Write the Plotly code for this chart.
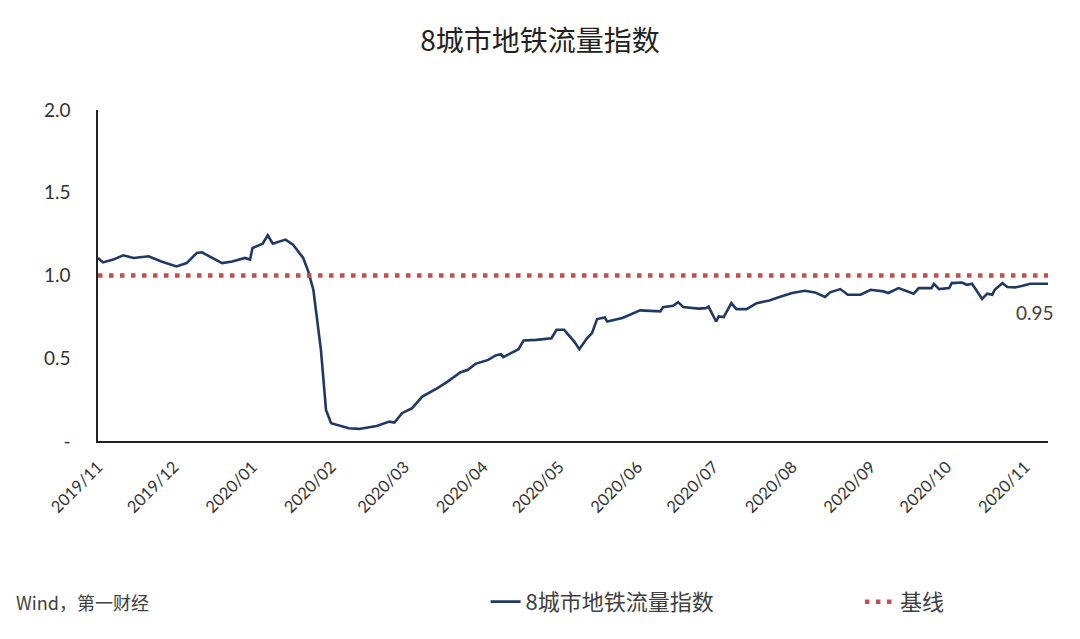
import plotly.graph_objects as go

# ---------------- data ----------------
dates = [
    "2019-11-01", "2019-11-03", "2019-11-07", "2019-11-11", "2019-11-15", "2019-11-21", "2019-11-26",
    "2019-12-02", "2019-12-06", "2019-12-10", "2019-12-12", "2019-12-16", "2019-12-20", "2019-12-24",
    "2019-12-29", "2019-12-31", "2020-01-01", "2020-01-05", "2020-01-07", "2020-01-09", "2020-01-14",
    "2020-01-17", "2020-01-21", "2020-01-23", "2020-01-25", "2020-01-28", "2020-01-30", "2020-02-01",
    "2020-02-04", "2020-02-08", "2020-02-12", "2020-02-17", "2020-02-19", "2020-02-24", "2020-02-26",
    "2020-02-29", "2020-03-04", "2020-03-08", "2020-03-14", "2020-03-18", "2020-03-23", "2020-03-26",
    "2020-03-29", "2020-04-03", "2020-04-06", "2020-04-08", "2020-04-09", "2020-04-12", "2020-04-15",
    "2020-04-17", "2020-04-22", "2020-04-28", "2020-04-30", "2020-05-03", "2020-05-05", "2020-05-07",
    "2020-05-09", "2020-05-12", "2020-05-14", "2020-05-16", "2020-05-19", "2020-05-20", "2020-05-26",
    "2020-06-02", "2020-06-10", "2020-06-11", "2020-06-15", "2020-06-17", "2020-06-19", "2020-06-25",
    "2020-06-28", "2020-06-29", "2020-07-02", "2020-07-03", "2020-07-05", "2020-07-08", "2020-07-10",
    "2020-07-14", "2020-07-18", "2020-07-23", "2020-07-27", "2020-08-01", "2020-08-06", "2020-08-10",
    "2020-08-14", "2020-08-16", "2020-08-20", "2020-08-23", "2020-08-28", "2020-09-01", "2020-09-06",
    "2020-09-08", "2020-09-12", "2020-09-18", "2020-09-20", "2020-09-25", "2020-09-26", "2020-09-28",
    "2020-10-02", "2020-10-03", "2020-10-07", "2020-10-09", "2020-10-11", "2020-10-13", "2020-10-15",
    "2020-10-17", "2020-10-19", "2020-10-20", "2020-10-23", "2020-10-25", "2020-10-28", "2020-10-31",
    "2020-11-03", "2020-11-10",
]
metro_index = [
    1.106, 1.079, 1.096, 1.122, 1.106, 1.116, 1.085,
    1.055, 1.075, 1.136, 1.140, 1.106, 1.075, 1.085,
    1.106, 1.096, 1.166, 1.192, 1.243, 1.192, 1.217,
    1.186, 1.106, 1.025, 0.914, 0.551, 0.188, 0.107,
    0.094, 0.077, 0.073, 0.087, 0.091, 0.117, 0.111,
    0.168, 0.198, 0.268, 0.319, 0.359, 0.414, 0.430,
    0.466, 0.490, 0.517, 0.525, 0.507, 0.531, 0.555,
    0.607, 0.611, 0.621, 0.672, 0.672, 0.636, 0.601,
    0.555, 0.621, 0.652, 0.737, 0.746, 0.722, 0.743,
    0.789, 0.783, 0.809, 0.817, 0.839, 0.809, 0.800,
    0.803, 0.812, 0.722, 0.753, 0.749, 0.833, 0.797,
    0.797, 0.833, 0.849, 0.870, 0.894, 0.908, 0.898,
    0.870, 0.898, 0.918, 0.884, 0.884, 0.914, 0.904,
    0.894, 0.924, 0.890, 0.924, 0.924, 0.950, 0.918,
    0.924, 0.954, 0.958, 0.944, 0.950, 0.904, 0.858,
    0.890, 0.884, 0.914, 0.954, 0.930, 0.928, 0.938,
    0.950, 0.950,
]
baseline_value = 1.0
y_tick_vals = [0, 0.5, 1.0, 1.5, 2.0]
y_tick_text = ["-", "0.5", "1.0", "1.5", "2.0"]

title_text = "8城市地铁流量指数"
series_name = "8城市地铁流量指数"
baseline_name = "基线"
source_text = "Wind，第一财经"

# ---------------- figure ----------------
cjk = "Noto Sans CJK SC, sans-serif"
num_font = "Lato, Noto Sans, sans-serif"

fig = go.Figure()
fig.add_trace(go.Scatter(
    x=dates, y=metro_index, mode="lines", name=series_name, legend="legend",
    line=dict(color="#1F3864", width=2.6),
))
fig.add_trace(go.Scatter(
    x=[dates[0], dates[-1]], y=[baseline_value, baseline_value], mode="lines",
    name=baseline_name, legend="legend2",
    line=dict(color="#C0504D", width=4.5, dash="4.5px,6.5px"),
))

fig.add_annotation(
    x=dates[-1], y=metro_index[-1], text=f"{metro_index[-1]:.2f}", showarrow=False,
    xanchor="center", yanchor="middle", xshift=-13, yshift=-29,
    font=dict(family=num_font, size=19, color="#404040"),
)
fig.add_annotation(
    xref="paper", yref="paper", x=-0.088, y=-0.486, xanchor="left", yanchor="middle",
    text=source_text, showarrow=False,
    font=dict(family=cjk, size=18, color="#404040"),
)

legend_common = dict(orientation="h", xanchor="left", y=-0.486, yanchor="middle",
                     font=dict(family=cjk, size=22, color="#404040"),
                     bgcolor="rgba(0,0,0,0)")

fig.update_layout(
    width=1080, height=639,
    margin=dict(l=98, r=32, t=110, b=198, autoexpand=False),
    paper_bgcolor="white", plot_bgcolor="white",
    title=dict(text=title_text, x=0.5, xanchor="center", y=0.935, yanchor="middle",
               font=dict(family=cjk, size=28, color="#222222")),
    showlegend=True,
    legend=dict(x=0.408, **legend_common),
    legend2=dict(x=0.802, **legend_common),
    xaxis=dict(
        type="date", range=["2019-11-01", "2020-11-10"], automargin=False,
        tick0="2019-11-01", dtick="M1", tickformat="%Y/%m", tickangle=-45,
        showgrid=False, zeroline=False, showline=True, linecolor="#222222", linewidth=1.5,
        ticks="outside", ticklen=8, tickcolor="rgba(0,0,0,0)",
        tickfont=dict(family=num_font, size=16.5, color="#333333"),
    ),
    yaxis=dict(
        range=[0, 2], tickvals=y_tick_vals, ticktext=y_tick_text, automargin=False,
        showgrid=False, zeroline=False, showline=True, linecolor="#222222", linewidth=1.5,
        ticks="outside", ticklen=22, tickcolor="rgba(0,0,0,0)",
        tickfont=dict(family=num_font, size=19, color="#333333"),
    ),
)

fig.write_html("out.html")
